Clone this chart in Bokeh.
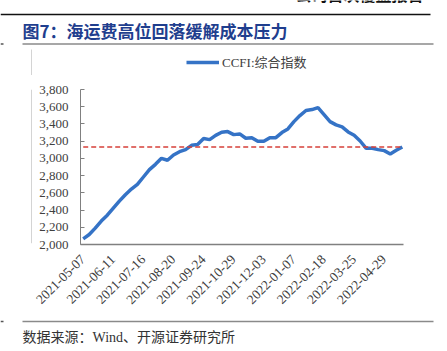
import math
from bokeh.plotting import figure
from bokeh.layouts import column, row
from bokeh.models import (Range1d, FixedTicker, NumeralTickFormatter,
                          Legend, LegendItem)
from bokeh.core.properties import value
from bokeh.embed import file_html
from bokeh.resources import INLINE

# ---------------- data ----------------
dates = [
    "2021-05-07", "2021-05-14", "2021-05-21", "2021-05-28", "2021-06-04",
    "2021-06-11", "2021-06-18", "2021-06-25", "2021-07-02", "2021-07-09",
    "2021-07-16", "2021-07-23", "2021-07-30", "2021-08-06", "2021-08-13",
    "2021-08-20", "2021-08-27", "2021-09-03", "2021-09-10", "2021-09-17",
    "2021-09-24", "2021-09-30", "2021-10-08", "2021-10-15", "2021-10-22",
    "2021-10-29", "2021-11-05", "2021-11-12", "2021-11-19", "2021-11-26",
    "2021-12-03", "2021-12-10", "2021-12-17", "2021-12-24", "2021-12-31",
    "2022-01-07", "2022-01-14", "2022-01-21", "2022-01-28", "2022-02-11",
    "2022-02-18", "2022-02-25", "2022-03-04", "2022-03-11", "2022-03-18",
    "2022-03-25", "2022-04-01", "2022-04-08", "2022-04-15", "2022-04-22",
    "2022-04-29", "2022-05-06", "2022-05-13", "2022-05-20",
]
ccfi = [
    2066, 2116, 2190, 2272, 2341, 2423, 2504, 2578, 2644, 2698,
    2784, 2869, 2931, 3001, 2978, 3040, 3078, 3102, 3152, 3160,
    3230, 3218, 3268, 3303, 3311, 3276, 3284, 3234, 3241, 3199,
    3199, 3241, 3241, 3300, 3342, 3427, 3497, 3556, 3567, 3590,
    3509, 3427, 3389, 3365, 3307, 3268, 3202, 3117, 3117, 3102,
    3090, 3051, 3094, 3133,
]
ref_level = ccfi[-1]
series_name = "CCFI:综合指数"
label_every = 5
y_ticks = [2000, 2200, 2400, 2600, 2800, 3000, 3200, 3400, 3600, 3800]
title_text = "图7：海运费高位回落缓解成本压力"
header_text = "公司首次覆盖报告"
source_text = "数据来源：Wind、开源证券研究所"

# ---------------- styles ----------------
SERIF = "Liberation Serif, 'Noto Sans CJK SC'"
CJK = "Noto Sans CJK SC"
BLUE = "#3573C6"
RED = "#D6403A"
W = 447
TOP_H = 75          # header / title / legend strip
MAIN_H = 243        # chart strip
BOT_H = 351 - TOP_H - MAIN_H
STRIP_W = 33        # left border strip (vertical rule)


def deco_fig(w, h, y0):
    f = figure(width=w, height=h, output_backend="svg", toolbar_location=None,
               x_range=Range1d(0, w), y_range=Range1d(y0 + h, y0),
               x_axis_location=None, y_axis_location=None, title=None,
               min_border=0)
    f.outline_line_color = None
    f.grid.visible = False
    f.background_fill_color = "white"
    f.border_fill_color = "white"
    return f


# ---------- top strip ----------
top = deco_fig(W, TOP_H, 0)
top.text(x=[423], y=[5], text=[header_text], text_font=value(CJK),
         text_font_style="bold", text_font_size="16px", text_color="#111111",
         text_align="right", text_baseline="bottom")
top.segment(x0=[0], y0=[14], x1=[430], y1=[14], line_color="#111111", line_width=1.5)
top.text(x=[22], y=[30], text=[title_text], text_font=value(CJK),
         text_font_style="bold", text_font_size="17px", text_color="#1F3E8E",
         text_align="left", text_baseline="middle")
top.segment(x0=[22, 0], y0=[43.5, 43.5], x1=[433, 3], y1=[43.5, 43.5],
            line_color=["#8a8a8a", "#555555"], line_width=1.5)
top.segment(x0=[31], y0=[49], x1=[31], y1=[TOP_H], line_color="#d4d4d4", line_width=1)
# legend proxy: same style as the series line, its data lies off-frame
legend_line = top.line(x=[-20, -10], y=[-20, -20], line_color=BLUE, line_width=3.5)
legend = Legend(items=[LegendItem(label=series_name, renderers=[legend_line])],
                location=(186, TOP_H - 71), orientation="horizontal",
                background_fill_alpha=0, border_line_color=None,
                padding=0, margin=0, spacing=0, glyph_width=33, glyph_height=14,
                label_height=14, label_standoff=3,
                label_text_font=SERIF, label_text_font_size="13px",
                label_text_color="#404040")
top.add_layout(legend)

# ---------- left strip ----------
strip = deco_fig(STRIP_W, MAIN_H, TOP_H)
strip.segment(x0=[31], y0=[TOP_H], x1=[31], y1=[316], line_color="#d4d4d4", line_width=1)

# ---------- main chart ----------
xs = list(range(len(ccfi)))
p = figure(width=W - STRIP_W, height=MAIN_H, output_backend="svg",
           toolbar_location=None, title=None,
           x_range=Range1d(-0.45, 53.2), y_range=Range1d(y_ticks[0], y_ticks[-1]),
           min_border_left=80 - STRIP_W, min_border_right=44,
           min_border_top=89 - TOP_H, min_border_bottom=TOP_H + MAIN_H - 244)
p.outline_line_color = None
p.grid.visible = False
p.background_fill_color = "white"
p.border_fill_color = "white"

p.line(xs, ccfi, line_color=BLUE, line_width=3.5)
p.line([xs[0], xs[-1]], [ref_level, ref_level], line_color=RED,
       line_width=1.6, line_dash="5 3")

ya = p.yaxis[0]
ya.ticker = FixedTicker(ticks=y_ticks)
ya.formatter = NumeralTickFormatter(format="0,0")
ya.major_tick_in = 4
ya.major_tick_out = 0
ya.minor_tick_line_color = None
ya.axis_line_color = "#808080"
ya.major_tick_line_color = "#808080"
ya.major_label_text_font = SERIF
ya.major_label_text_font_size = "13px"
ya.major_label_text_color = "#404040"
ya.major_label_standoff = 12

xa = p.xaxis[0]
tick_idx = list(range(0, len(dates), label_every))
xa.ticker = FixedTicker(ticks=tick_idx)
xa.major_label_overrides = {i: dates[i] for i in tick_idx}
xa.major_label_orientation = math.pi / 4
xa.major_tick_in = 0
xa.major_tick_out = 0
xa.minor_tick_line_color = None
xa.axis_line_color = "#808080"
xa.axis_line_width = 1.5
xa.major_label_text_font = SERIF
xa.major_label_text_font_size = "13.5px"
xa.major_label_text_color = "#404040"
xa.major_label_standoff = 13

# ---------- bottom strip ----------
bot = deco_fig(W, BOT_H, TOP_H + MAIN_H)
bot.segment(x0=[22, 0], y0=[321, 321], x1=[433, 3], y1=[321, 321],
            line_color=["#8a8a8a", "#555555"], line_width=1.5)
bot.text(x=[22], y=[337], text=[source_text], text_font=value(SERIF),
         text_font_size="14px", text_color="#333333",
         text_align="left", text_baseline="middle")

layout = column(top, row(strip, p, spacing=0), bot, spacing=0)
open("out.html", "w").write(file_html(layout, INLINE))
